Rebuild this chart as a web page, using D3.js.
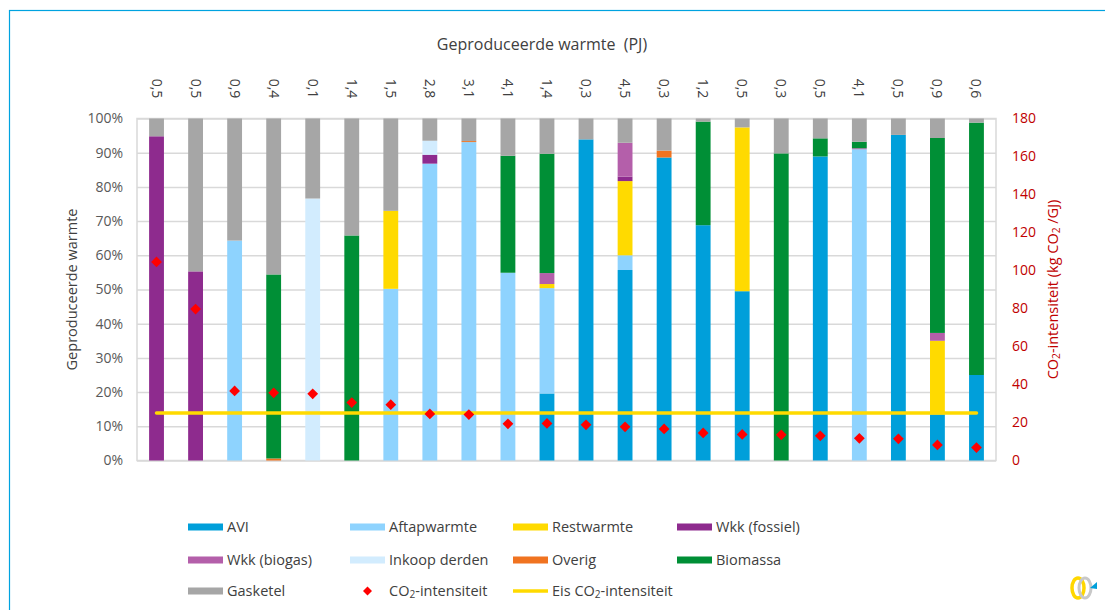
<!DOCTYPE html>
<html>
<head>
<meta charset="utf-8">
<script src="https://cdn.jsdelivr.net/npm/d3@7"></script>
<style>
  body { margin: 0; background: #fff; }
  svg text { font-family: "Open Sans", "Noto Sans", sans-serif; }
</style>
</head>
<body>
<div id="chart"></div>
<script>
// categories: produced heat per network (PJ)
var categories = ["0,5","0,5","0,9","0,4","0,1","1,4","1,5","2,8","3,1","4,1","1,4",
                  "0,3","4,5","0,3","1,2","0,5","0,3","0,5","4,1","0,5","0,9","0,6"];

// share of heat per source (%)
var avi      = [0,0,0,0,0,0,0,0,0,0,19.6,93.9,55.7,88.6,68.8,49.5,0,88.9,0,95.2,13.5,25.0];
var aftap    = [0,0,64.3,0,0,0,50.2,86.8,93.1,54.9,30.8,0,4.3,0,0,0,0,0,91.0,0,0,0];
var rest     = [0,0,0,0,0,0,22.8,0,0,0,1.2,0,21.7,0,0,47.9,0,0,0,0,21.5,0];
var wkkFos   = [94.8,55.3,0,0,0,0,0,2.6,0,0,0,0,1.3,0,0,0,0,0,0,0,0,0];
var wkkBio   = [0,0,0,0,0,0,0,0,0,0,3.2,0,9.9,0,0,0,0,0,0.3,0,2.3,0];
var inkoop   = [0,0,0,0,76.6,0,0,4.1,0,0,0,0,0,0,0,0,0,0,0,0,0,0];
var overig   = [0,0,0,0.6,0,0,0,0,0.3,0,0,0,0,2.0,0,0,0,0,0,0,0,0];
var biomassa = [0,0,0,53.8,0,65.8,0,0,0,34.2,34.9,0,0,0,30.3,0,89.8,5.3,1.9,0,57.0,73.8];
var gasketel = [5.2,44.7,35.7,45.6,23.4,34.2,27.0,6.5,6.6,10.9,10.3,6.1,7.1,9.4,0.9,2.6,10.2,5.8,6.8,4.8,5.7,1.2];

// CO2 intensity (kg CO2/GJ)
var co2 = [104.5,79.7,36.6,35.6,35.1,30.5,29.4,24.5,24.2,19.3,19.5,18.8,17.7,16.6,14.5,13.7,13.5,13.0,11.7,11.4,8.2,6.8];
var eisCo2 = 25;

var seriesNames = ["AVI","Aftapwarmte","Restwarmte","Wkk (fossiel)","Wkk (biogas)","Inkoop derden","Overig","Biomassa","Gasketel"];
var seriesData = [avi, aftap, rest, wkkFos, wkkBio, inkoop, overig, biomassa, gasketel];
var colors = ["#009FDA","#8ED3FE","#FFDA00","#8E2B8E","#B45FAA","#D2ECFE","#F07320","#008F36","#A6A6A6"];

var width = 1105, height = 610;
var margin = {top: 118.5, right: 109, bottom: 149.5, left: 137};
var plotW = width - margin.left - margin.right;
var plotH = height - margin.top - margin.bottom;

var svg = d3.select("#chart").append("svg")
    .attr("width", width)
    .attr("height", height);

// outer frame
svg.append("rect")
    .attr("x", 9.5).attr("y", 10.5)
    .attr("width", width).attr("height", height)
    .attr("fill", "none")
    .attr("stroke", "#00A3E0")
    .attr("stroke-width", 1.2);

var g = svg.append("g").attr("transform", `translate(${margin.left},${margin.top})`);

var x = d3.scaleBand()
    .domain(d3.range(categories.length))
    .range([0, plotW])
    .paddingInner(0.62)
    .paddingOuter(0.31);

var y = d3.scaleLinear().domain([0, 100]).range([plotH, 0]);
var yR = d3.scaleLinear().domain([0, 180]).range([plotH, 0]);

// gridlines
g.append("g")
    .call(d3.axisLeft(y).tickValues(d3.range(0, 101, 10)).tickSize(-plotW).tickFormat(""))
    .call(a => a.select(".domain").remove())
    .call(a => a.selectAll("line").attr("stroke", "#D9D9D9").attr("stroke-width", 1.5));

g.append("rect")
    .attr("width", plotW).attr("height", plotH)
    .attr("fill", "none")
    .attr("stroke", "#D9D9D9")
    .attr("stroke-width", 1.5);

// left axis labels
g.append("g")
    .call(d3.axisLeft(y).tickValues(d3.range(0, 101, 10)).tickSize(0).tickPadding(14).tickFormat(d => d + "%"))
    .call(a => a.select(".domain").remove())
    .call(a => a.selectAll("text").attr("fill", "#595959").attr("font-size", 14));

// right axis labels
g.append("g")
    .attr("transform", `translate(${plotW},0)`)
    .call(d3.axisRight(yR).tickValues(d3.range(0, 181, 20)).tickSize(0).tickPadding(16))
    .call(a => a.select(".domain").remove())
    .call(a => a.selectAll("text").attr("fill", "#C00000").attr("font-size", 14));

// stacked bars
var rows = categories.map(function(c, i) {
    var r = {i: i};
    seriesNames.forEach(function(s, k) { r[s] = seriesData[k][i]; });
    return r;
});
var stack = d3.stack().keys(seriesNames)(rows);

g.append("g").selectAll("g")
    .data(stack)
    .enter().append("g")
    .attr("fill", (d, k) => colors[k])
    .selectAll("rect")
    .data(d => d)
    .enter().append("rect")
    .attr("x", d => x(d.data.i))
    .attr("width", x.bandwidth())
    .attr("y", d => y(d[1]))
    .attr("height", d => Math.max(0, y(d[0]) - y(d[1])));

// requirement line
g.append("line")
    .attr("x1", x(0) + x.bandwidth() / 2)
    .attr("x2", x(categories.length - 1) + x.bandwidth() / 2)
    .attr("y1", yR(eisCo2)).attr("y2", yR(eisCo2))
    .attr("stroke", "#FFDA00")
    .attr("stroke-width", 3.5)
    .attr("stroke-linecap", "round");

// CO2 points
var diamond = d3.symbol().type(d3.symbolSquare).size(58);
g.append("g").selectAll("path")
    .data(co2)
    .enter().append("path")
    .attr("d", diamond)
    .attr("transform", (d, i) => `translate(${x(i) + x.bandwidth() / 2},${yR(d)}) rotate(45)`)
    .attr("fill", "#FF0000");

// category labels (PJ)
g.append("g").selectAll("text")
    .data(categories)
    .enter().append("text")
    .attr("transform", (d, i) => `translate(${x(i) + x.bandwidth() / 2 - 5},${-30}) rotate(90)`)
    .attr("text-anchor", "middle")
    .attr("font-size", 14)
    .attr("fill", "#404040")
    .text(d => d);

svg.append("text")
    .attr("x", 542).attr("y", 50)
    .attr("text-anchor", "middle")
    .attr("font-size", 16)
    .attr("fill", "#404040")
    .attr("xml:space", "preserve")
    .text("Geproduceerde warmte  (PJ)");

// axis titles
svg.append("text")
    .attr("transform", `translate(77,${margin.top + plotH / 2}) rotate(-90)`)
    .attr("text-anchor", "middle")
    .attr("font-size", 14.5)
    .attr("fill", "#404040")
    .text("Geproduceerde warmte");

var rt = svg.append("text")
    .attr("transform", `translate(1058,${margin.top + plotH / 2}) rotate(-90)`)
    .attr("text-anchor", "middle")
    .attr("font-size", 14.5)
    .attr("fill", "#C00000");
rt.append("tspan").text("CO");
rt.append("tspan").attr("font-size", "0.7em").attr("dy", 2).text("2");
rt.append("tspan").attr("dy", -2).text("-intensiteit (kg CO");
rt.append("tspan").attr("font-size", "0.7em").attr("dy", 2).text("2");
rt.append("tspan").attr("dy", -2).text(" /GJ)");

// legend
var legendItems = seriesNames.map((s, k) => ({name: s, color: colors[k], type: "rect"}));
legendItems.push({name: "CO2-intensiteit", color: "#FF0000", type: "diamond"});
legendItems.push({name: "Eis CO2-intensiteit", color: "#FFDA00", type: "line"});

var colX = [188, 350, 513, 677];
var rowY = [527, 560, 591];

var leg = svg.append("g").selectAll("g")
    .data(legendItems)
    .enter().append("g")
    .attr("transform", (d, i) => `translate(${colX[i % 4]},${rowY[Math.floor(i / 4)]})`);

leg.each(function(d) {
    var s = d3.select(this);
    if (d.type === "rect") {
        s.append("rect").attr("x", 0).attr("y", -3.5).attr("width", 35).attr("height", 7).attr("fill", d.color);
    } else if (d.type === "diamond") {
        s.append("path").attr("d", d3.symbol().type(d3.symbolSquare).size(40))
            .attr("transform", "translate(17.5,0) rotate(45)").attr("fill", d.color);
    } else {
        s.append("line").attr("x1", 0).attr("x2", 35).attr("y1", 0).attr("y2", 0)
            .attr("stroke", d.color).attr("stroke-width", 3.5);
    }
    var t = s.append("text")
        .attr("x", 39).attr("y", 5)
        .attr("font-size", 14.5)
        .attr("fill", "#404040");
    if (d.name.indexOf("CO2") >= 0) {
        var parts = d.name.split("CO2");
        t.append("tspan").text(parts[0] + "CO");
        t.append("tspan").attr("font-size", "0.7em").attr("dy", 2).text("2");
        t.append("tspan").attr("dy", -2).text(parts[1]);
    } else {
        t.text(d.name);
    }
});

// small logo bottom right
var logo = svg.append("g").attr("transform", "translate(1082,588)");
logo.append("ellipse").attr("cx", -4).attr("cy", 0).attr("rx", 6).attr("ry", 10)
    .attr("fill", "none").attr("stroke", "#FFD700").attr("stroke-width", 3.5);
logo.append("ellipse").attr("cx", 3).attr("cy", 0).attr("rx", 6).attr("ry", 10)
    .attr("fill", "none").attr("stroke", "#C8C8C8").attr("stroke-width", 3);
logo.append("path").attr("d", "M8,0 L15,-6 L15,1 Z").attr("fill", "#009FDA");
</script>
</body>
</html>
